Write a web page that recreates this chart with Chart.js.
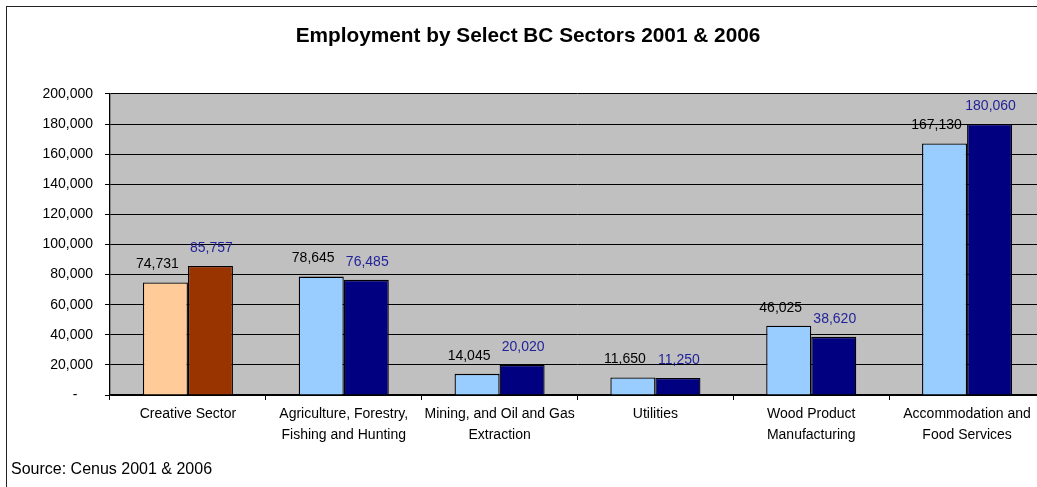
<!DOCTYPE html>
<html>
<head>
<meta charset="utf-8">
<title>Employment by Select BC Sectors 2001 &amp; 2006</title>
<script src="https://cdn.jsdelivr.net/npm/chart.js@4/dist/chart.umd.min.js"></script>
<style>
  html, body { margin: 0; padding: 0; background: #fff; overflow: hidden; }
  body { width: 1037px; height: 487px; }
  #wrap { position: absolute; left: 0; top: 0; width: 1056px; height: 487px; }
</style>
</head>
<body>
<div id="wrap"><canvas id="chart"></canvas></div>
<script>
/* ---------- Данные ---------- */
const sectors = [
  'Creative Sector',
  ['Agriculture, Forestry,', 'Fishing and Hunting'],
  ['Mining, and Oil and Gas', 'Extraction'],
  'Utilities',
  ['Wood Product', 'Manufacturing'],
  ['Accommodation and', 'Food Services'],
];
const jobs2001 = [74731, 78645, 14045, 11650, 46025, 167130];
const jobs2006 = [85757, 76485, 20020, 11250, 38620, 180060];
const yMax = 200000;
const yStep = 20000;
const titleText = 'Employment by Select BC Sectors 2001 & 2006';
const sourceText = 'Source: Cenus 2001 & 2006';

/* ---------- Цвета ---------- */
const C = {
  plot: '#c0c0c0',
  peach: '#ffcc99', brown: '#993300',
  sky: '#99ccff', navy: '#000080',
  label2006: '#1f1f99',
  frame: '#222222',
};
const FONT = '"Liberation Sans", Arial, sans-serif';
const fmt = (v) => v.toLocaleString('en-US');

// первая категория выделена своей парой цветов
const colors2001 = sectors.map((_, i) => (i === 0 ? C.peach : C.sky));
const colors2006 = sectors.map((_, i) => (i === 0 ? C.brown : C.navy));

/* ---------- Плагин: фон, рамка, подписи, источник ---------- */
const decor = {
  id: 'decor',
  beforeDraw(chart) {
    const { ctx, chartArea: a } = chart;
    ctx.save();
    ctx.fillStyle = C.plot;
    ctx.fillRect(a.left, a.top, a.right - a.left, a.bottom - a.top);
    ctx.strokeStyle = C.frame;
    ctx.lineWidth = 1;
    ctx.strokeRect(6.5, 6.5, chart.width + 20, chart.height + 20);
    ctx.restore();
  },
  afterDatasetsDraw(chart) {
    const { ctx } = chart;
    ctx.save();
    ctx.font = `14px ${FONT}`;
    ctx.textAlign = 'center';
    ctx.textBaseline = 'middle';
    chart.data.datasets.forEach((ds, di) => {
      const meta = chart.getDatasetMeta(di);
      meta.data.forEach((bar, i) => {
        ctx.fillStyle = ds.labelColor;
        ctx.fillText(fmt(ds.data[i]), bar.x + ds.labelDx, bar.y - 18);
      });
    });
    ctx.font = `16px ${FONT}`;
    ctx.textAlign = 'left';
    ctx.fillStyle = '#000';
    ctx.fillText(sourceText, 11, 470);
    ctx.restore();
  },
};

/* ---------- График ---------- */
new Chart(document.getElementById('chart'), {
  type: 'bar',
  data: {
    labels: sectors,
    datasets: [
      { label: '2001', data: jobs2001, backgroundColor: colors2001, borderColor: '#000', borderWidth: 1.3,
        labelColor: '#000', labelDx: -8 },
      { label: '2006', data: jobs2006, backgroundColor: colors2006, borderColor: '#000', borderWidth: 1.3,
        labelColor: C.label2006, labelDx: 1 },
    ],
  },
  options: {
    responsive: true, maintainAspectRatio: false, animation: false,
    categoryPercentage: 0.578, barPercentage: 1,
    layout: { padding: { left: 11, right: 11, top: 0, bottom: 0 } },
    plugins: {
      legend: { display: false },
      tooltip: { enabled: false },
      title: {
        display: true, text: titleText, color: '#000',
        font: { family: FONT, size: 20.8, weight: 'bold', lineHeight: 1.2 },
        padding: { top: 24, bottom: 45 },
      },
    },
    scales: {
      x: {
        grid: { offset: true, drawOnChartArea: false, color: '#000', tickLength: 5 },
        border: { color: '#000', width: 1.3 },
        ticks: { color: '#000', padding: 4, maxRotation: 0, autoSkip: false,
          font: { family: FONT, size: 14, lineHeight: 1.5 } },
        afterFit: (s) => { s.height = 92; },
      },
      y: {
        min: 0, max: yMax,
        grid: { color: '#000', lineWidth: 1, tickLength: 5 },
        border: { color: '#000', width: 1.3 },
        ticks: { stepSize: yStep, color: '#000', padding: 12,
          font: { family: FONT, size: 14 },
          callback: (v) => (v === 0 ? '-    ' : fmt(v)) },
        afterFit: (s) => { s.width = 99; },
      },
    },
  },
  plugins: [decor],
});
</script>
</body>
</html>
